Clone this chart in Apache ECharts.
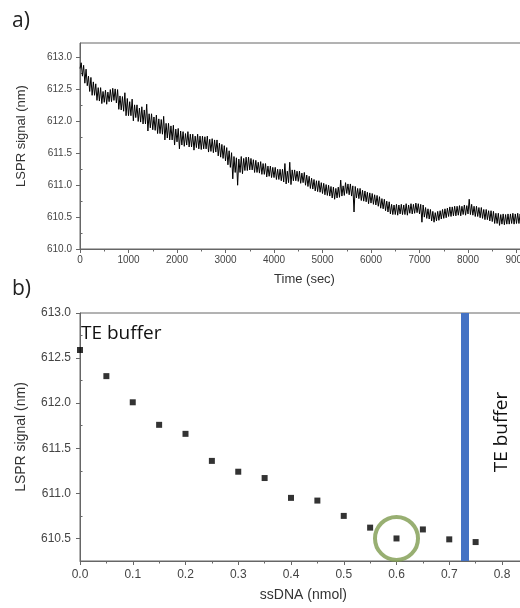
<!DOCTYPE html>
<html>
<head>
<meta charset="utf-8">
<title>LSPR signal</title>
<script src="https://cdn.jsdelivr.net/npm/echarts@6.0.0/dist/echarts.min.js"></script>
<style>
  html, body { margin: 0; padding: 0; background: #fff; overflow: hidden; }
  /* wider than the window: both plots run on past the right edge */
  #chart { width: 600px; height: 608px; }
</style>
</head>
<body>
<div id="chart"></div>
<script>
// a) LSPR trace, band every 50 s (upper and lower edge)
const traceStepSec = 50
const traceHigh = [
  612.92, 612.88, 612.82, 612.71, 612.69, 612.62, 612.59, 612.53, 612.53, 612.47,
  612.49, 612.46, 612.50, 612.52, 612.51, 612.50, 612.40, 612.39, 612.45, 612.36,
  612.31, 612.35, 612.26, 612.26, 612.21, 612.23, 612.18, 612.27, 612.12, 612.12,
  612.07, 612.10, 612.04, 612.03, 612.08, 611.97, 611.97, 611.93, 611.94, 611.88,
  611.89, 611.85, 611.84, 611.81, 611.84, 611.80, 611.80, 611.77, 611.80, 611.77,
  611.77, 611.76, 611.77, 611.72, 611.73, 611.71, 611.71, 611.66, 611.64, 611.62,
  611.59, 611.54, 611.51, 611.45, 611.43, 611.41, 611.45, 611.42, 611.44, 611.44,
  611.42, 611.40, 611.39, 611.36, 611.37, 611.34, 611.34, 611.30, 611.30, 611.28,
  611.28, 611.25, 611.25, 611.25, 611.34, 611.22, 611.36, 611.24, 611.24, 611.22,
  611.22, 611.19, 611.20, 611.16, 611.14, 611.11, 611.09, 611.07, 611.07, 611.04,
  611.03, 611.01, 611.00, 610.98, 610.97, 610.95, 610.97, 611.08, 610.99, 611.04,
  611.02, 611.02, 610.99, 610.98, 610.95, 610.95, 610.92, 610.91, 610.89, 610.88,
  610.87, 610.85, 610.84, 610.82, 610.79, 610.78, 610.75, 610.74, 610.70, 610.69,
  610.70, 610.69, 610.70, 610.69, 610.71, 610.69, 610.71, 610.70, 610.72, 610.71,
  610.70, 610.69, 610.65, 610.63, 610.62, 610.59, 610.57, 610.59, 610.60, 610.62,
  610.63, 610.64, 610.66, 610.66, 610.67, 610.67, 610.68, 610.67, 610.69, 610.68,
  610.78, 610.70, 610.67, 610.67, 610.65, 610.65, 610.62, 610.62, 610.60, 610.60,
  610.59, 610.56, 610.56, 610.54, 610.55, 610.54, 610.55, 610.55, 610.56, 610.55,
  610.56, 610.55, 610.55, 610.54, 610.54
]
const traceLow = [
  612.83, 612.71, 612.60, 612.56, 612.47, 612.41, 612.41, 612.33, 612.32, 612.28,
  612.30, 612.27, 612.31, 612.31, 612.33, 612.29, 612.19, 612.18, 612.16, 612.09,
  612.09, 612.09, 612.01, 612.06, 612.00, 611.99, 611.96, 611.96, 611.85, 611.90,
  611.87, 611.86, 611.81, 611.81, 611.80, 611.71, 611.74, 611.71, 611.71, 611.63,
  611.68, 611.57, 611.63, 611.61, 611.63, 611.60, 611.60, 611.55, 611.59, 611.57,
  611.56, 611.57, 611.57, 611.52, 611.53, 611.51, 611.52, 611.46, 611.44, 611.42,
  611.38, 611.32, 611.28, 611.10, 611.20, 611.00, 611.20, 611.18, 611.23, 611.23,
  611.24, 611.24, 611.20, 611.20, 611.19, 611.17, 611.17, 611.13, 611.14, 611.12,
  611.12, 611.09, 611.09, 611.07, 611.05, 611.02, 611.04, 611.01, 611.07, 611.07,
  611.06, 611.03, 611.04, 611.00, 610.98, 610.95, 610.94, 610.91, 610.90, 610.89,
  610.87, 610.85, 610.84, 610.83, 610.80, 610.78, 610.80, 610.81, 610.83, 610.84,
  610.87, 610.85, 610.83, 610.58, 610.80, 610.79, 610.76, 610.75, 610.74, 610.71,
  610.72, 610.70, 610.69, 610.67, 610.64, 610.63, 610.60, 610.58, 610.55, 610.54,
  610.54, 610.53, 610.55, 610.54, 610.54, 610.53, 610.56, 610.55, 610.56, 610.57,
  610.55, 610.42, 610.50, 610.48, 610.47, 610.44, 610.42, 610.44, 610.45, 610.47,
  610.48, 610.49, 610.51, 610.51, 610.52, 610.52, 610.53, 610.52, 610.54, 610.53,
  610.55, 610.54, 610.53, 610.51, 610.51, 610.49, 610.48, 610.46, 610.46, 610.44,
  610.43, 610.40, 610.40, 610.37, 610.39, 610.38, 610.39, 610.39, 610.40, 610.39,
  610.40, 610.40, 610.39, 610.39, 610.39
]

// b) end-point signal per ssDNA amount
const ssdnaNmol = [0, 0.05, 0.1, 0.15, 0.2, 0.25, 0.3, 0.35, 0.4, 0.45, 0.5, 0.55, 0.6, 0.65, 0.7, 0.75]
const ssdnaSignal = [612.59, 612.30, 612.01, 611.76, 611.66, 611.36, 611.24, 611.17,
  610.95, 610.92, 610.75, 610.62, 610.50, 610.60, 610.49, 610.46]
const circledIndex = 12
const bufferSwitchNmol = 0.728

// tick values
const topMajorTicks = [610, 610.5, 611, 611.5, 612, 612.5, 613]
const topMinorTicks = [610.25, 610.75, 611.25, 611.75, 612.25, 612.75]
const bottomMajorTicks = [610.5, 611, 611.5, 612, 612.5, 613]
const bottomMinorTicks = [610.25, 610.75, 611.25, 611.75, 612.25, 612.75]

// zigzag between the two band edges so the noise fills in like the original
const traceData = []
traceHigh.forEach((hi, i) => {
  const t = i * traceStepSec
  traceData.push([t, traceLow[i]])
  traceData.push([t + traceStepSec / 2, hi])
})
const pointData = ssdnaNmol.map((x, i) => [x, ssdnaSignal[i]])

const axisColor = '#666'
const labelColor = '#444'
const font = '"Liberation Sans", Arial, sans-serif'

function valueAxis(opts) {
  return Object.assign({
    type: 'value',
    splitLine: { show: false },
    axisLine: { show: true, onZero: false, lineStyle: { color: axisColor, width: 1 } },
    axisTick: { show: true, length: 4, lineStyle: { color: axisColor } },
    minorTick: { show: true, splitNumber: 2, length: 2.5, lineStyle: { color: axisColor } },
    axisLabel: { color: labelColor, fontFamily: font },
    nameTextStyle: { color: '#333', fontFamily: font }
  }, opts)
}

const chart = echarts.init(document.getElementById('chart'), null, { renderer: 'canvas' })

chart.setOption({
  animation: false,
  backgroundColor: '#fff',
  grid: [
    { left: 80, top: 43, width: 485, height: 206, outerBoundsMode: 'none',
      show: true, borderColor: axisColor, borderWidth: 1 },
    { left: 80, top: 313, width: 474.75, height: 248, outerBoundsMode: 'none',
      show: true, borderColor: axisColor, borderWidth: 1 }
  ],
  xAxis: [
    valueAxis({
      gridIndex: 0, min: 0, max: 10000, interval: 1000,
      name: 'Time (sec)', nameLocation: 'middle', nameGap: 24,
      nameTextStyle: { color: '#333', fontFamily: font, fontSize: 13, padding: [0, 36, 0, 0] },
      axisLabel: { color: labelColor, fontFamily: font, fontSize: 10, margin: 6, formatter: v => String(v) }
    }),
    valueAxis({
      gridIndex: 1, min: 0, max: 0.9, interval: 0.1,
      name: 'ssDNA (nmol)', nameLocation: 'middle', nameGap: 27,
      nameTextStyle: { color: '#333', fontFamily: font, fontSize: 14, padding: [0, 28, 0, 0] },
      axisLabel: { color: labelColor, fontFamily: font, fontSize: 12, margin: 8, formatter: v => v.toFixed(1) }
    })
  ],
  yAxis: [
    valueAxis({
      gridIndex: 0, min: 610, max: 613.23,
      name: 'LSPR signal (nm)', nameLocation: 'middle', nameGap: 52,
      nameTextStyle: { color: '#333', fontFamily: font, fontSize: 13, padding: [0, 0, 0, 20] },
      axisTick: { show: true, length: 4, customValues: topMajorTicks, lineStyle: { color: axisColor } },
      minorTick: { show: false },
      axisLabel: { color: labelColor, fontFamily: font, fontSize: 10, margin: 8,
        customValues: topMajorTicks, formatter: v => v.toFixed(1) }
    }),
    valueAxis({
      gridIndex: 0, min: 610, max: 613.23,
      axisLine: { show: false },
      axisLabel: { show: false },
      minorTick: { show: false },
      axisTick: { show: true, length: 2.5, customValues: topMinorTicks, lineStyle: { color: axisColor } }
    }),
    valueAxis({
      gridIndex: 1, min: 610.25, max: 613,
      name: 'LSPR signal (nm)', nameLocation: 'middle', nameGap: 52,
      nameTextStyle: { color: '#333', fontFamily: font, fontSize: 14 },
      axisTick: { show: true, length: 4, customValues: bottomMajorTicks, lineStyle: { color: axisColor } },
      minorTick: { show: false },
      axisLabel: { color: labelColor, fontFamily: font, fontSize: 12, margin: 9,
        customValues: bottomMajorTicks, formatter: v => v.toFixed(1) }
    }),
    valueAxis({
      gridIndex: 1, min: 610.25, max: 613,
      axisLine: { show: false },
      axisLabel: { show: false },
      minorTick: { show: false },
      axisTick: { show: true, length: 2.5, customValues: bottomMinorTicks, lineStyle: { color: axisColor } }
    })
  ],
  series: [
    {
      type: 'line',
      xAxisIndex: 0,
      yAxisIndex: 0,
      data: traceData,
      showSymbol: false,
      sampling: null,
      lineStyle: { color: '#000', width: 1 }
    },
    {
      type: 'scatter',
      xAxisIndex: 1,
      yAxisIndex: 2,
      data: pointData,
      symbol: 'rect',
      symbolSize: 6,
      itemStyle: { color: '#000' },
      markLine: {
        silent: true,
        symbol: ['none', 'none'],
        label: { show: false },
        lineStyle: { color: '#4472c4', width: 8, type: 'solid' },
        data: [{ xAxis: bufferSwitchNmol }]
      }
    },
    {
      // ring round the highlighted point
      type: 'scatter',
      xAxisIndex: 1,
      yAxisIndex: 2,
      data: [pointData[circledIndex]],
      symbol: 'circle',
      symbolSize: 43,
      silent: true,
      itemStyle: { color: 'rgba(0,0,0,0)', borderColor: '#7e9b4f', borderWidth: 4 }
    }
  ],
  graphic: [
    { type: 'text', left: 12, top: 11, style: { text: 'a)', font: '21px "Open Sans", sans-serif', fill: '#222' } },
    { type: 'text', left: 12, top: 279, style: { text: 'b)', font: '21px "Open Sans", sans-serif', fill: '#222' } },
    { type: 'text', x: 81, y: 334, style: { text: 'TE buffer', font: '19px "Open Sans", sans-serif', fill: '#111', textVerticalAlign: 'middle' } },
    { type: 'text', x: 502, y: 432, rotation: Math.PI / 2,
      style: { text: 'TE buffer', font: '19px "Open Sans", sans-serif', fill: '#111', textAlign: 'center', textVerticalAlign: 'middle' } }
  ]
})
</script>
</body>
</html>
